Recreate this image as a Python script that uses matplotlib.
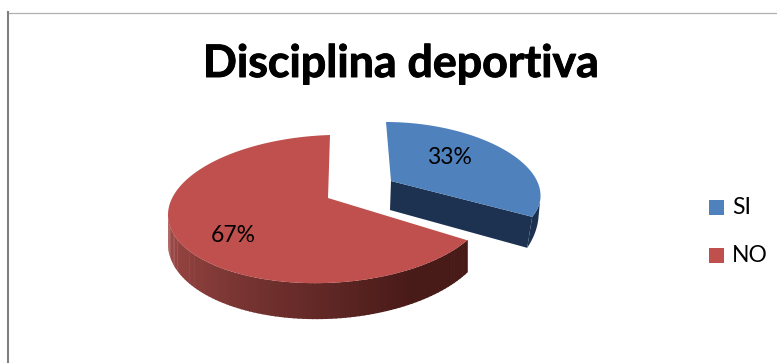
import numpy as np
import matplotlib
matplotlib.use("Agg")
import matplotlib.pyplot as plt
import matplotlib.patheffects as pe
from matplotlib.patches import Polygon, Rectangle

categories = ["SI", "NO"]
values = [33, 67]
percent_labels = ["33%", "67%"]
title_text = "Disciplina deportiva"

BLUE, BLUE_DARK = "#4f81bd", "#1d3251"
RED = "#c0504d"
RED_SIDE_LIGHT = np.array(matplotlib.colors.to_rgb("#a34c49"))
RED_SIDE_DARK = np.array(matplotlib.colors.to_rgb("#481a18"))

plt.rcParams["font.family"] = ["Lato", "DejaVu Sans"]

fig = plt.figure(figsize=(7.77, 3.63), dpi=100)
ax = fig.add_axes([0, 0, 1, 1])
ax.set_xlim(0, 777)
ax.set_ylim(363, 0)
ax.axis("off")

# chart frame: only the top and left edges are visible
ax.plot([8, 777], [12.5, 12.5], color="#b0b0b0", lw=0.9)
ax.plot([8, 8], [12, 363], color="#808080", lw=1.5)

title = ax.text(401, 64, title_text, ha="center", va="center", fontsize=32.2,
                fontweight="bold", color="black")
title.set_path_effects([pe.withStroke(linewidth=0.7, foreground="black")])

total = sum(values)
blue_sweep = 360 * values[0] / total
red_sweep = 360 * values[1] / total


def disc(t_deg, cx, cy, a, b, shear=0.0, tilt=0.0):
    """Project pie angles (degrees) on to the tilted disc, in pixels."""
    t = np.radians(t_deg)
    return np.column_stack([cx + a * np.cos(t) + shear * np.sin(t),
                            cy - b * np.sin(t) - tilt * np.cos(t)])


# NO slice: starts at twelve o'clock and runs counter-clockwise
red_geo = dict(cx=328, cy=209, a=160, b=74, shear=2, tilt=5)
red_apex = np.array([328, 198])
red_end = 90 + red_sweep


def red_depth(t_deg):
    return 29 + 7 * abs(np.sin(np.radians(t_deg)))


# outer wall, shaded from left to right
edges = np.linspace(180, red_end, 90)
for t0, t1 in zip(edges[:-1], edges[1:]):
    top = disc(np.array([t0, t1 + 0.4]), **red_geo)
    low = top + [[0, red_depth(t0)], [0, red_depth(t1)]]
    quad = np.vstack([top, low[::-1]])
    f = (t0 - 180) / (red_end - 180)
    f = min(1.0, f * 1.25)
    ax.add_patch(Polygon(quad, closed=True, lw=0,
                         fc=RED_SIDE_LIGHT * (1 - f) + RED_SIDE_DARK * f))

arc = disc(np.linspace(90, red_end, 200), **red_geo)
ax.add_patch(Polygon(np.vstack([red_apex, arc]), closed=True, fc=RED, lw=0))

# SI slice: pulled out from the pie, ends where the NO slice begins
blue_geo = dict(cx=406, cy=186, a=133, b=64, shear=-20)
blue_apex = np.array([391, 181])
blue_start = 90 - blue_sweep
blue_ext = np.degrees(np.arctan2(blue_geo["shear"], blue_geo["a"]))

end_pt = disc(np.array([blue_start]), **blue_geo)[0]
cut_face = np.array([blue_apex, end_pt, end_pt + [-5, 31], blue_apex + [-1, 29]])
ax.add_patch(Polygon(cut_face, closed=True, fc=BLUE_DARK, lw=0))

wall_t = np.linspace(blue_start, blue_ext, 30)
wall_top = disc(wall_t, **blue_geo)
frac = (wall_t - blue_start) / (blue_ext - blue_start)
wall_low = wall_top + np.column_stack([-5 + 3 * frac, 31 - 9 * frac])
ax.add_patch(Polygon(np.vstack([wall_top, wall_low[::-1]]), closed=True,
                     fc=BLUE_DARK, lw=0))

arc = disc(np.linspace(90, blue_start, 120), **blue_geo)
ax.add_patch(Polygon(np.vstack([blue_apex, arc]), closed=True, fc=BLUE, lw=0))

ax.text(449, 157, percent_labels[0], ha="center", va="center", fontsize=16.5, color="black")
ax.text(233, 235, percent_labels[1], ha="center", va="center", fontsize=16.5, color="black")

# legend
for name, color, y in zip(categories, [BLUE, RED], [200, 248]):
    ax.add_patch(Rectangle((709, y), 15, 15, fc=color, lw=0))
    ax.text(732, y + 8, name, ha="left", va="center", fontsize=16.5, color="black")

fig.savefig("out.png", dpi=100)
